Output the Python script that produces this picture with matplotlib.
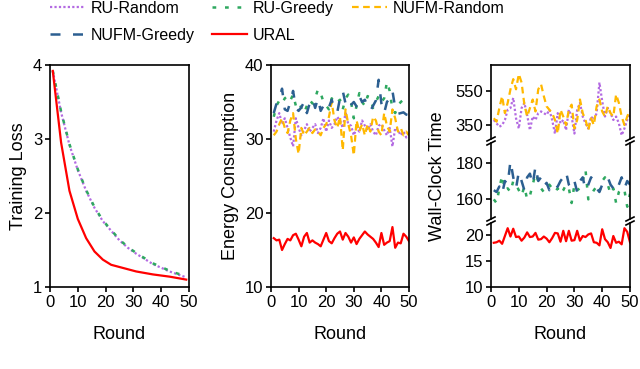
import numpy as np
import matplotlib
matplotlib.use('Agg')
import matplotlib.pyplot as plt
from matplotlib.lines import Line2D

plt.rcParams['font.family'] = ['Liberation Sans', 'DejaVu Sans']
plt.rcParams['font.size'] = 12

# ---- data ----
loss_rounds = [1, 4, 7, 10, 13, 16, 19, 22, 25, 28, 31, 34, 37, 40, 43, 46, 49]
loss_ru_random = [3.92, 3.36, 2.92, 2.58, 2.30, 2.07, 1.89, 1.76, 1.63, 1.53, 1.45, 1.38, 1.31, 1.26, 1.21, 1.17, 1.13]
loss_ru_greedy = [3.92, 3.37, 2.93, 2.59, 2.31, 2.08, 1.90, 1.77, 1.64, 1.54, 1.46, 1.39, 1.32, 1.27, 1.22, 1.18, 1.15]
loss_ural = [3.92, 2.95, 2.30, 1.92, 1.66, 1.48, 1.37, 1.30, 1.27, 1.24, 1.21, 1.19, 1.17, 1.155, 1.14, 1.12, 1.10]

rounds = list(range(1, 51))
energy_ru_random = [31.0, 32.5, 33.5, 32.0, 32.8, 31.5, 30.2, 29.0, 32.8, 31.5, 30.5, 31.2, 32.0, 31.0, 31.5,
                    32.0, 30.8, 31.5, 32.8, 31.0, 32.5, 31.5, 32.0, 33.0, 32.5, 31.5, 33.5, 32.0, 31.8, 30.5,
                    31.5, 31.0, 32.5, 31.8, 31.2, 32.0, 31.0, 30.5, 31.8, 32.0, 31.2, 30.5, 31.5, 29.0, 31.5,
                    31.2, 30.5, 31.0, 30.2, 30.8]
energy_ru_greedy = [33.0, 34.5, 35.2, 34.8, 35.5, 35.8, 35.2, 36.0, 34.5, 35.0, 34.2, 33.5, 34.5, 35.3, 34.8,
                    35.5, 36.7, 36.2, 35.0, 34.5, 34.0, 35.5, 34.8, 35.0, 35.3, 34.0, 35.5, 36.0, 35.0, 32.8,
                    34.5, 36.2, 35.0, 34.5, 35.8, 35.5, 34.2, 35.0, 35.8, 35.0, 35.5, 37.7, 36.5, 34.0, 33.5,
                    34.5, 35.0, 35.3, 35.0, 35.2]
energy_nufm_random = [30.5, 31.0, 32.0, 32.8, 31.5, 30.8, 32.5, 33.5, 30.0, 28.0, 31.5, 30.5, 31.0, 31.5, 30.8,
                      31.3, 31.0, 30.5, 31.5, 32.0, 33.0, 35.0, 32.5, 31.5, 33.0, 28.5, 34.0, 32.0, 30.5, 27.8,
                      32.5, 31.0, 32.0, 30.5, 32.0, 31.0, 33.0, 32.5, 31.0, 30.5, 33.5, 31.8, 31.0, 34.0, 32.8,
                      31.0, 31.5, 30.5, 31.0, 30.5]
energy_nufm_greedy = [33.5, 34.8, 35.5, 36.8, 34.0, 33.8, 35.0, 36.5, 34.2, 33.8, 34.3, 35.0, 33.5, 34.8, 35.5,
                      34.2, 35.5, 33.8, 34.5, 35.0, 34.3, 35.3, 34.0, 33.6, 35.5, 36.5, 34.8, 34.0, 34.6, 35.0,
                      34.4, 35.8, 35.0, 35.3, 34.5, 33.8, 34.5, 35.2, 38.0, 34.8, 33.5, 35.0, 35.5, 36.5, 34.2,
                      33.4, 33.5, 33.6, 33.3, 33.2]
energy_ural = [16.6, 16.3, 16.4, 15.0, 15.8, 16.5, 16.3, 17.0, 17.2, 16.4, 15.5, 16.8, 17.3, 16.0, 16.3,
               16.0, 15.8, 15.5, 16.4, 17.3, 16.2, 15.9, 16.6, 17.2, 17.5, 16.4, 17.3, 16.8, 16.0, 16.7,
               15.8, 16.5, 17.0, 17.5, 17.1, 16.8, 16.5, 16.0, 15.4, 17.3, 15.7, 16.0, 16.2, 18.1, 15.3,
               16.0, 15.9, 17.2, 16.8, 16.2]

time_ru_random = [380, 360, 340, 350, 380, 440, 450, 510, 390, 330, 450, 480, 410, 320, 400, 380, 420, 430,
                  420, 410, 440, 380, 300, 420, 360, 380, 320, 440, 400, 300, 440, 480, 400, 360, 330, 400,
                  380, 420, 600, 490, 400, 450, 420, 380, 400, 360, 290, 330, 380, 420]
time_nufm_random = [390, 370, 450, 520, 420, 480, 560, 620, 560, 650, 600, 470, 400, 450, 500, 430, 560, 590,
                    520, 460, 440, 420, 380, 300, 440, 400, 350, 440, 470, 330, 380, 500, 420, 380, 320, 390,
                    350, 460, 500, 430, 400, 460, 420, 400, 530, 480, 400, 350, 400, 440]
time_nufm_greedy = [165, 164, 167, 163, 170, 168, 181, 172, 166, 175, 170, 165, 172, 174, 168, 178, 170, 172,
                    167, 169, 165, 168, 166, 167, 170, 172, 175, 168, 166, 170, 164, 170, 172, 165, 168, 172,
                    170, 166, 164, 168, 170, 172, 168, 166, 164, 168, 172, 166, 170, 168]
time_ru_greedy = [160, 158, 166, 173, 165, 166, 164, 170, 168, 165, 162, 167, 160, 162, 168, 174, 170, 166,
                  164, 166, 168, 166, 164, 166, 163, 165, 168, 166, 158, 168, 165, 166, 170, 176, 160, 162,
                  165, 167, 164, 170, 172, 168, 163, 166, 158, 164, 166, 165, 156, 163]
time_ural = [18.5, 18.6, 18.9, 18.3, 19.8, 21.3, 19.7, 21.2, 19.6, 19.7, 18.9, 19.5, 20.5, 19.6, 19.7, 20.4,
             19.1, 19.2, 19.7, 19.3, 18.6, 19.4, 20.4, 20.3, 18.7, 20.8, 18.8, 20.8, 18.9, 19.0, 20.8, 18.9,
             19.8, 19.6, 20.1, 20.3, 18.6, 18.5, 18.0, 21.1, 19.2, 18.6, 17.5, 19.8, 18.5, 18.7, 18.2, 21.3,
             20.6, 18.6]

# styles
st = {
    'RU-Random': dict(color='#b36ae2', ls=(0, (1, 1)), lw=1.6),
    'RU-Greedy': dict(color='#2ea860', ls=(0, (1.5, 3.5)), lw=1.8),
    'NUFM-Random': dict(color='#ffb800', ls=(0, (3, 2)), lw=1.6),
    'NUFM-Greedy': dict(color='#2c5f91', ls=(0, (4, 5)), lw=1.8),
    'URAL': dict(color='#ff0000', ls='-', lw=1.6),
}

W, H = 640, 369
fig = plt.figure(figsize=(6.4, 3.69), dpi=100)


def box(l, t, r, b):
    return [l / W, 1 - b / H, (r - l) / W, (b - t) / H]


def style_ax(ax):
    for s in ax.spines.values():
        s.set_linewidth(1.2)
    ax.tick_params(direction='out', length=3.5, width=1.2, labelsize=12, pad=2)


# panel 1 - training loss
ax1 = fig.add_axes(box(50, 65, 189, 287))
ax1.plot(loss_rounds, loss_ru_random, **st['RU-Random'])
ax1.plot(loss_rounds, loss_ru_greedy, **st['RU-Greedy'])
ax1.plot(loss_rounds, loss_ural, **st['URAL'])
ax1.set_xlim(0, 50)
ax1.set_ylim(1, 4)
ax1.set_xticks([0, 10, 20, 30, 40, 50])
ax1.set_yticks([1, 2, 3, 4])
ax1.set_xlabel('Round', fontsize=13, labelpad=12)
ax1.set_ylabel('Training Loss', fontsize=13, labelpad=4)
style_ax(ax1)

# panel 2 - energy
ax2 = fig.add_axes(box(271, 65, 409, 287))
ax2.plot(rounds, energy_ru_random, **st['RU-Random'])
ax2.plot(rounds, energy_ru_greedy, **st['RU-Greedy'])
ax2.plot(rounds, energy_nufm_random, **st['NUFM-Random'])
ax2.plot(rounds, energy_nufm_greedy, **st['NUFM-Greedy'])
ax2.plot(rounds, energy_ural, **st['URAL'])
ax2.set_xlim(0, 50)
ax2.set_ylim(10, 40)
ax2.set_xticks([0, 10, 20, 30, 40, 50])
ax2.set_yticks([10, 20, 30, 40])
ax2.set_xlabel('Round', fontsize=13, labelpad=12)
ax2.set_ylabel('Energy Consumption', fontsize=13, labelpad=4)
style_ax(ax2)

# panel 3 - wall-clock time, broken axis
a_top = fig.add_axes(box(491, 65, 630, 139))
a_mid = fig.add_axes(box(491, 143, 630, 219))
a_bot = fig.add_axes(box(491, 223, 630, 287))
a_top.plot(rounds, time_ru_random, **st['RU-Random'])
a_top.plot(rounds, time_nufm_random, **st['NUFM-Random'])
a_mid.plot(rounds, time_ru_greedy, **st['RU-Greedy'])
a_mid.plot(rounds, time_nufm_greedy, **st['NUFM-Greedy'])
a_bot.plot(rounds, time_ural, **st['URAL'])
a_top.set_ylim(268, 703)
a_top.set_yticks([350, 550])
a_mid.set_ylim(149.3, 190.7)
a_mid.set_yticks([160, 180])
a_bot.set_ylim(10, 22.3)
a_bot.set_yticks([10, 15, 20])
for a in (a_top, a_mid, a_bot):
    a.set_xlim(0, 50)
    style_ax(a)
for a in (a_top, a_mid):
    a.spines['bottom'].set_visible(False)
    a.tick_params(axis='x', bottom=False, labelbottom=False)
for a in (a_mid, a_bot):
    a.spines['top'].set_visible(False)
a_bot.set_xticks([0, 10, 20, 30, 40, 50])
a_bot.set_xlabel('Round', fontsize=13, labelpad=12)
fig.text(437 / W, 1 - 176 / H, 'Wall-Clock Time', rotation=90, fontsize=13,
         ha='center', va='center')

# break marks
for yb in (141, 221):
    for xb in (491, 630):
        for dy in (-2, 2):
            fig.add_artist(Line2D([(xb - 4) / W, (xb + 4) / W],
                                  [1 - (yb + dy + 2) / H, 1 - (yb + dy - 2) / H],
                                  color='black', lw=1.2))

# legend
order = ['RU-Random', 'NUFM-Greedy', 'RU-Greedy', 'URAL', 'NUFM-Random']
handles = [Line2D([], [], **st[k]) for k in order]
fig.legend(handles, order, ncol=3, loc='upper left', bbox_to_anchor=(50 / W, 1 - 1 / H),
           frameon=False, fontsize=11.5, handlelength=2.2, handletextpad=0.35,
           columnspacing=1.1, labelspacing=0.75, borderaxespad=0.0, borderpad=0.0)

fig.savefig('out.png', dpi=100)
